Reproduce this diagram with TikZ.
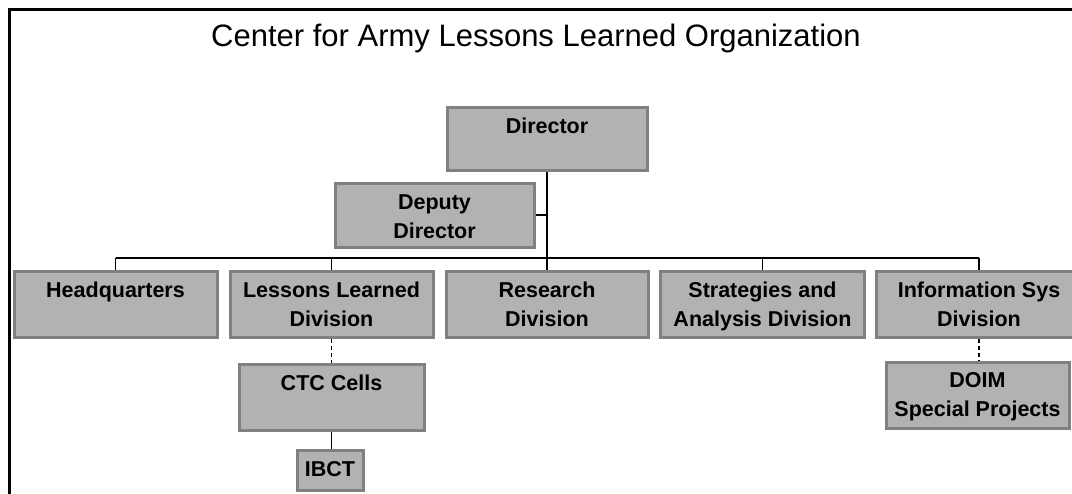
\documentclass[tikz,border=0pt]{standalone}
\usepackage{fontspec}
\setmainfont{Liberation Sans}
\definecolor{boxfill}{HTML}{B2B2B2}
\definecolor{boxborder}{HTML}{808080}
\begin{document}
\begin{tikzpicture}[x=1pt,y=-1pt,
  orgbox/.style={draw=boxborder,fill=boxfill,line width=3pt,rectangle,inner sep=0pt,anchor=north},
  lbl/.style={font=\fontsize{21.5}{29}\selectfont\bfseries,align=center,anchor=base,inner sep=0pt},
  busline/.style={line width=2pt},
  dropline/.style={line width=1.2pt},
  dashlink/.style={line width=1.2pt,dash pattern=on 4pt off 3pt},
  frameline/.style={line width=3pt}]
\useasboundingbox (0,0) rectangle (1072,494);
% frame
\coordinate (fTL) at (9,10);
\coordinate (fTR) at (1075,10);
\coordinate (fBL) at (9,497);
\draw[frameline] (fBL) -- (fTL) -- (fTR);
% title
\node[font=\fontsize{31}{36}\selectfont,anchor=base,inner sep=0pt] (title) at (536,47) {Center for Army Lessons Learned Organization};
% boxes
\node[orgbox,minimum width=200pt,minimum height=63pt] (dir) at (547,106) {};
\node[orgbox,minimum width=199pt,minimum height=64pt] (dep) at (434.5,182) {};
\node[orgbox,minimum width=203pt,minimum height=66pt] (hq) at (115.5,270) {};
\node[orgbox,minimum width=203pt,minimum height=66pt] (lld) at (331.5,270) {};
\node[orgbox,minimum width=202pt,minimum height=66pt] (res) at (547,270) {};
\node[orgbox,minimum width=204pt,minimum height=66pt] (sad) at (762.5,270) {};
\node[orgbox,minimum width=206pt,minimum height=66pt] (isd) at (979,270) {};
\node[orgbox,minimum width=185pt,minimum height=66pt] (ctc) at (331.5,363) {};
\node[orgbox,minimum width=183pt,minimum height=66pt] (doim) at (977.5,361) {};
\node[orgbox,minimum width=66pt,minimum height=40pt] (ibct) at (330,449) {};
% labels (base anchor = last line's baseline)
\node[lbl] (dirT) at ([yshift=-27.5pt]dir.north) {Director};
\node[lbl] (depT) at ([yshift=-57pt]dep.north) {Deputy\\Director};
\node[lbl] (hqT) at ([yshift=-27.5pt]hq.north) {Headquarters};
\node[lbl] (lldT) at ([yshift=-56.5pt]lld.north) {Lessons Learned\\Division};
\node[lbl] (resT) at ([yshift=-56.5pt]res.north) {Research\\Division};
\node[lbl] (sadT) at ([yshift=-56.5pt]sad.north) {Strategies and\\Analysis Division};
\node[lbl] (isdT) at ([yshift=-56.5pt]isd.north) {Information Sys\\Division};
\node[lbl] (ctcT) at ([yshift=-27.5pt]ctc.north) {CTC Cells};
\node[lbl] (doimT) at ([yshift=-55.5pt]doim.north) {DOIM\\Special Projects};
\node[lbl] (ibctT) at ([yshift=-28pt]ibct.north) {IBCT};
% connectors
\coordinate (busL) at (hq.north |- 0,258);
\coordinate (busR) at (isd.north |- 0,258);
\coordinate (busM) at (dir.south |- 0,258);
\draw[busline] (busL) -- (busR);
\draw[busline] (dir.south) -- (busM);
\draw[busline] (dep.east) -- (dep.east -| dir.south);
\foreach \n in {hq,lld,res,sad,isd}{
  \draw[dropline] (\n.north |- busL) -- (\n.north);
}
\draw[dashlink] (lld.south) -- (lld.south |- ctc.north);
\draw[dashlink] (isd.south) -- (isd.south |- doim.north);
\draw[dropline] (ctc.south) -- (ctc.south |- ibct.north);
\end{tikzpicture}
\end{document}
